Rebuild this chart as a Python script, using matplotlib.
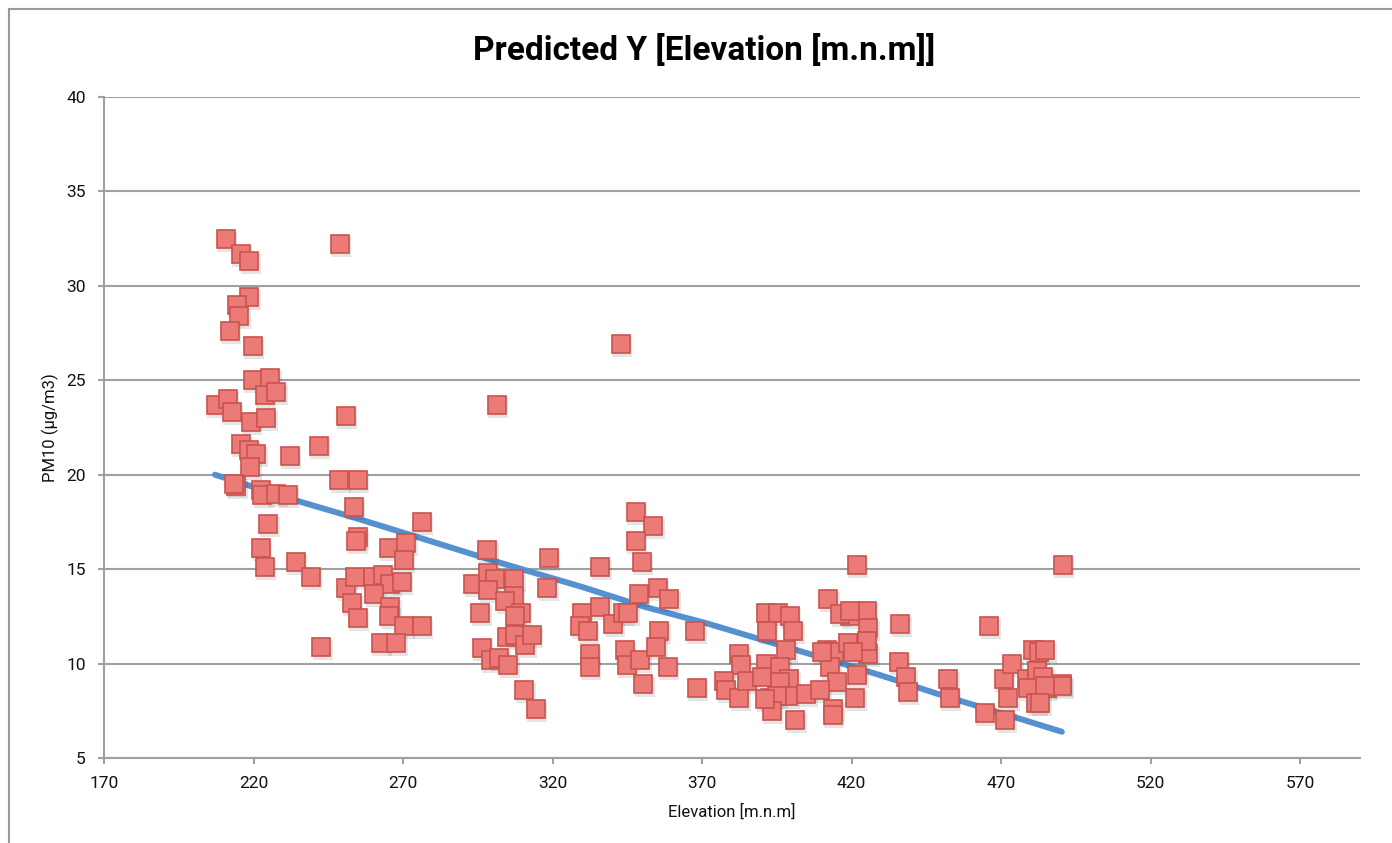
"""
Scatter of observed PM10 against elevation, with the model's predicted Y.

Saves the chart to ``out.png``.
"""

import matplotlib
matplotlib.use("Agg")  # non-interactive backend
import matplotlib.pyplot as plt
from matplotlib import transforms
from matplotlib.patches import Rectangle

# ══════════════════════════════════════════════
#  Data
# ══════════════════════════════════════════════

# observed stations: elevation [m.n.m] and PM10 (µg/m3)
elevation = [
    210.7, 215.8, 218.5, 248.9, 218.5, 214.4, 215.3, 212.0, 219.8, 219.8,
    225.6, 223.8, 227.6, 207.4, 211.4, 212.7, 219.1, 224.3, 250.8, 215.8,
    218.5, 220.9, 218.9, 232.2, 241.9, 214.2, 213.5, 222.4, 222.9, 227.6,
    231.5, 248.7, 254.9, 253.5, 224.9, 222.4, 223.8, 234.1, 239.1, 254.8,
    254.4, 242.6, 276.3, 265.3, 271.0, 270.2, 251.0, 254.0, 260.1, 263.4,
    265.7, 269.6, 260.4, 252.8, 254.8, 265.7, 265.4, 270.3, 262.5, 267.7,
    276.3,
    342.8, 301.3, 298.2, 318.8, 335.9, 347.9, 353.7, 347.8, 349.8, 348.9,
    293.5, 298.5, 300.8, 307.2, 298.5, 307.1, 304.1, 309.3, 307.5, 295.8,
    318.3, 304.7, 307.5, 310.8, 313.0, 296.3, 299.4, 302.1, 305.2, 310.6,
    314.4, 329.8, 329.2, 331.8, 335.9, 340.3, 343.7, 345.3, 332.5, 332.5,
    344.2, 344.8, 349.3, 350.4, 355.2, 359.1, 367.7, 368.2, 355.7, 354.6,
    358.5,
    382.5, 383.0, 377.4, 378.0, 382.5, 384.9, 391.4, 395.5, 399.4, 391.6,
    400.5, 398.1, 391.4, 390.0, 396.1, 399.2, 396.1, 398.8, 392.7, 395.0,
    393.3, 401.1, 404.9, 412.2, 411.7, 414.1, 412.8, 415.2, 413.9, 413.7,
    421.2, 419.5, 425.1, 425.6, 418.9, 425.6, 421.9, 421.7, 436.2, 435.7,
    438.2, 438.8, 416.2, 419.5, 425.1, 420.6, 410.0, 409.5, 391.1,
    490.6, 466.0, 452.4, 452.9, 464.6, 471.3, 472.4, 470.8, 473.8, 480.8,
    482.5, 478.6, 481.9, 484.1, 479.1, 485.3, 481.7, 490.3, 490.4, 484.7,
    484.7, 483.0,
]
pm10 = [
    32.5, 31.7, 31.3, 32.2, 29.4, 29.0, 28.4, 27.6, 26.8, 25.0,
    25.1, 24.2, 24.4, 23.7, 24.0, 23.3, 22.8, 23.0, 23.1, 21.6,
    21.3, 21.1, 20.4, 21.0, 21.5, 19.4, 19.5, 19.2, 18.9, 19.0,
    18.9, 19.7, 19.7, 18.3, 17.4, 16.1, 15.1, 15.4, 14.6, 16.7,
    16.5, 10.9, 17.5, 16.1, 16.4, 15.5, 14.0, 14.6, 14.6, 14.7,
    14.2, 14.3, 13.7, 13.2, 12.4, 13.0, 12.5, 12.0, 11.1, 11.1,
    12.0,
    26.9, 23.7, 16.0, 15.6, 15.1, 18.0, 17.3, 16.5, 15.4, 13.7,
    14.2, 14.8, 14.5, 14.5, 13.9, 13.6, 13.3, 12.7, 12.5, 12.7,
    14.0, 11.4, 11.5, 11.0, 11.5, 10.8, 10.2, 10.3, 9.9, 8.6,
    7.6, 12.7, 12.0, 11.7, 13.0, 12.1, 12.7, 12.7, 10.5, 9.8,
    10.7, 9.9, 10.2, 8.9, 14.0, 13.4, 11.7, 8.7, 11.7, 10.9,
    9.8,
    10.5, 9.9, 9.1, 8.6, 8.2, 9.1, 12.7, 12.7, 12.5, 11.7,
    11.7, 10.7, 10.0, 9.3, 9.8, 9.2, 9.0, 8.3, 8.2, 8.3,
    7.5, 7.0, 8.4, 13.4, 10.7, 10.6, 9.8, 9.0, 7.6, 7.3,
    8.2, 12.5, 12.8, 11.9, 11.1, 10.5, 9.4, 15.2, 12.1, 10.1,
    9.3, 8.5, 12.6, 12.8, 11.2, 10.6, 10.6, 8.6, 8.1,
    15.2, 12.0, 9.2, 8.2, 7.4, 7.0, 8.2, 9.2, 10.0, 10.7,
    10.6, 9.2, 9.6, 9.3, 8.7, 8.7, 7.9, 8.9, 8.8, 10.7,
    8.8, 7.9,
]

# predicted Y
pred_elev = [207.1, 233.9, 252.8, 270.7, 301.8, 329.8, 350.9, 371.6,
             393.8, 416.2, 429.5, 451.8, 474.0, 490.3]
pred_pm10 = [20.0, 18.65, 17.77, 16.9, 15.37, 14.06, 13.0, 12.13,
             11.08, 10.03, 9.39, 8.24, 7.19, 6.39]

x_ticks = list(range(170, 571, 50))
y_ticks = list(range(5, 41, 5))

TITLE = "Predicted Y [Elevation [m.n.m]]"
X_LABEL = "Elevation [m.n.m]"
Y_LABEL = "PM10 (µg/m3)"

GRID = "#a0a0a0"
LINE_BLUE = "#5690CE"
MARK_FACE = "#EC7A76"
MARK_EDGE = "#C9534F"

plt.rcParams["font.family"] = ["Roboto", "DejaVu Sans"]


def main() -> None:
    fig = plt.figure(figsize=(13.92, 8.43), dpi=100)
    ax = fig.add_axes([0.0747, 0.1008, 0.9023, 0.7842])

    # chart-area frame (Excel style, only top/left visible)
    fig.patches.append(Rectangle((9 / 1392, -0.1), 1.2, 1.1 - 9 / 843,
                                 transform=fig.transFigure, fill=False,
                                 edgecolor="#9a9a9a", linewidth=1.5))

    ax.plot(pred_elev, pred_pm10, color=LINE_BLUE, linewidth=4.3,
            solid_capstyle="round", solid_joinstyle="round", zorder=3)

    # soft drop shadow under the markers
    shadow = transforms.offset_copy(ax.transData, fig=fig, x=1.5, y=-3,
                                    units="dots")
    ax.plot(elevation, pm10, linestyle="none", marker="s", markersize=14.5,
            markerfacecolor="#000000", markeredgewidth=0, alpha=0.10,
            transform=shadow, zorder=4)
    ax.plot(elevation, pm10, linestyle="none", marker="s", markersize=13.6,
            markerfacecolor=MARK_FACE, markeredgecolor=MARK_EDGE,
            markeredgewidth=1.2, zorder=5)

    ax.set_xlim(170, 590)
    ax.set_ylim(5, 40)
    ax.set_xticks(x_ticks)
    ax.set_yticks(y_ticks)
    ax.yaxis.grid(True, color=GRID, linewidth=1.5)
    ax.set_axisbelow(True)

    for side in ("top", "right"):
        ax.spines[side].set_visible(False)
    for side in ("left", "bottom"):
        ax.spines[side].set_color(GRID)
        ax.spines[side].set_linewidth(1.5)
    ax.tick_params(axis="both", colors=GRID, length=4, width=1.5,
                   labelcolor="#111111", labelsize=12.5)
    ax.tick_params(axis="x", pad=9)
    ax.tick_params(axis="y", pad=9)

    ax.set_xlabel(X_LABEL, fontsize=12, color="#111111", labelpad=9)
    ax.set_ylabel(Y_LABEL, fontsize=12, color="#111111", labelpad=5)
    fig.text(0.506, 0.94, TITLE, ha="center", va="center",
             fontsize=24, fontweight="bold", color="#000000")

    fig.savefig("out.png", dpi=100)
    plt.close(fig)


if __name__ == "__main__":
    main()
